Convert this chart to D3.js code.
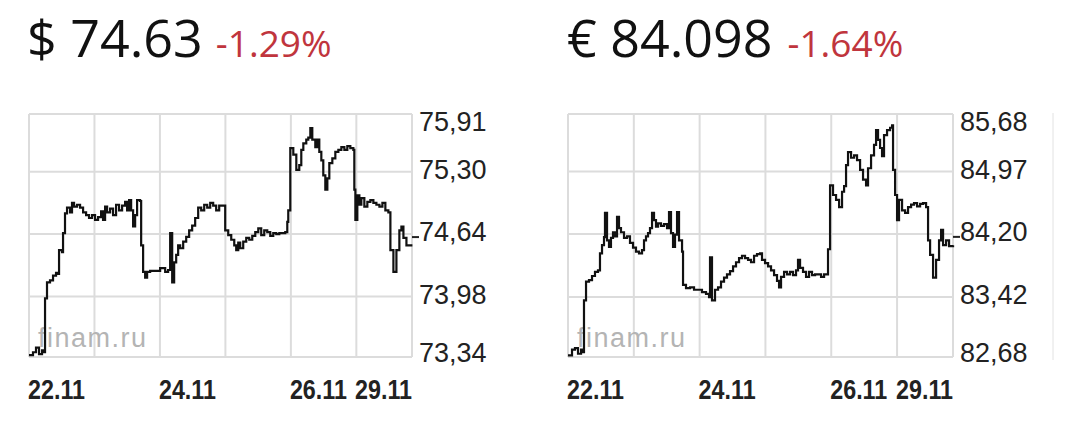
<!DOCTYPE html>
<html>
<head>
<meta charset="utf-8">
<style>
  body { margin: 0; background: #fff; }
</style>
</head>
<body>
<div id="d3-container"></div>

<script src="https://d3js.org/d3.v7.min.js"></script>
<script>
    const width = 1080;
    const height = 428;

    // trading days on the x axis (index of the day, weekend skipped)
    const dayTicks = [0, 1, 2, 3, 4, 5];
    const dayLabels = ["22.11", "", "24.11", "", "26.11", "29.11"];

    // USD/RUB  [day index, price]
    const usdTicks = [75.91, 75.30, 74.64, 73.98, 73.34];
    const usdPoints = [
        [0, 73.36], [0.061, 73.39], [0.107, 73.44], [0.153, 73.37], [0.199, 73.41], [0.229, 73.39],
        [0.245, 73.96], [0.275, 74.13], [0.321, 74.15], [0.367, 74.20], [0.413, 74.23], [0.443, 74.22],
        [0.459, 74.47], [0.505, 74.45], [0.520, 74.65], [0.550, 74.86], [0.581, 74.92], [0.627, 74.87],
        [0.657, 74.97], [0.688, 74.93], [0.734, 74.95], [0.780, 74.92], [0.826, 74.87], [0.872, 74.84],
        [0.917, 74.81], [0.963, 74.84], [1.009, 74.79], [1.055, 74.82], [1.101, 74.88], [1.131, 74.79],
        [1.162, 74.93], [1.193, 74.87], [1.239, 74.91], [1.284, 74.84], [1.330, 74.95], [1.376, 74.89],
        [1.422, 74.94], [1.468, 74.98], [1.498, 74.89], [1.529, 75.00], [1.560, 74.89], [1.590, 74.72],
        [1.621, 74.84], [1.651, 75.00], [1.697, 74.99], [1.713, 74.52], [1.743, 74.24], [1.774, 74.18],
        [1.804, 74.24], [1.850, 74.25], [1.927, 74.25], [2.003, 74.28], [2.080, 74.24], [2.125, 74.26],
        [2.156, 74.65], [2.187, 74.13], [2.217, 74.34], [2.248, 74.42], [2.278, 74.52], [2.309, 74.49],
        [2.355, 74.56], [2.401, 74.61], [2.446, 74.68], [2.492, 74.73], [2.538, 74.81], [2.584, 74.92],
        [2.630, 74.89], [2.676, 74.95], [2.722, 74.92], [2.768, 74.97], [2.813, 74.94], [2.859, 74.89],
        [2.905, 74.94], [2.951, 74.94], [2.997, 74.68], [3.043, 74.63], [3.089, 74.58], [3.135, 74.52],
        [3.165, 74.47], [3.196, 74.55], [3.226, 74.49], [3.272, 74.56], [3.318, 74.60], [3.364, 74.58],
        [3.410, 74.62], [3.456, 74.66], [3.502, 74.70], [3.547, 74.63], [3.593, 74.68], [3.639, 74.66],
        [3.685, 74.62], [3.731, 74.65], [3.777, 74.64], [3.823, 74.65], [3.869, 74.65], [3.914, 74.66],
        [3.945, 74.77], [3.960, 74.89], [3.991, 75.55], [4.037, 75.48], [4.083, 75.32], [4.128, 75.37],
        [4.159, 75.53], [4.190, 75.60], [4.235, 75.64], [4.266, 75.66], [4.297, 75.76], [4.327, 75.64],
        [4.373, 75.56], [4.404, 75.64], [4.434, 75.51], [4.465, 75.42], [4.495, 75.26], [4.526, 75.11],
        [4.557, 75.23], [4.587, 75.39], [4.633, 75.44], [4.679, 75.51], [4.725, 75.53], [4.771, 75.56],
        [4.817, 75.53], [4.862, 75.57], [4.908, 75.55], [4.954, 75.53], [4.969, 75.11], [4.985, 74.79],
        [5.015, 75.05], [5.046, 74.95], [5.076, 75.02], [5.122, 74.93], [5.168, 74.98], [5.214, 75.00],
        [5.260, 74.97], [5.306, 74.95], [5.352, 74.93], [5.398, 74.97], [5.443, 74.89], [5.489, 74.87],
        [5.520, 74.47], [5.566, 74.24], [5.612, 74.47], [5.657, 74.68], [5.688, 74.72], [5.719, 74.60],
        [5.765, 74.52], [5.810, 74.52], [5.856, 74.52]
    ];

    // EUR/RUB  [day index, price]
    const eurTicks = [85.68, 84.97, 84.20, 83.42, 82.68];
    const eurPoints = [
        [0, 82.70], [0.061, 82.77], [0.106, 82.79], [0.152, 82.72], [0.198, 82.77], [0.228, 82.74],
        [0.243, 83.38], [0.274, 83.61], [0.319, 83.63], [0.365, 83.68], [0.410, 83.73], [0.456, 83.75],
        [0.486, 83.96], [0.517, 84.06], [0.547, 84.16], [0.562, 84.46], [0.593, 84.12], [0.623, 84.04],
        [0.653, 84.15], [0.684, 84.22], [0.714, 84.17], [0.745, 84.41], [0.775, 84.27], [0.805, 84.22],
        [0.851, 84.15], [0.897, 84.17], [0.942, 84.09], [0.988, 84.03], [1.033, 83.98], [1.079, 83.96],
        [1.125, 84.00], [1.155, 84.12], [1.185, 84.17], [1.216, 84.21], [1.246, 84.27], [1.277, 84.46],
        [1.307, 84.37], [1.337, 84.29], [1.368, 84.33], [1.413, 84.30], [1.459, 84.32], [1.505, 84.27],
        [1.535, 84.47], [1.565, 84.21], [1.596, 84.04], [1.626, 84.19], [1.657, 84.47], [1.687, 84.12],
        [1.733, 83.98], [1.748, 83.57], [1.793, 83.53], [1.854, 83.54], [1.915, 83.51], [1.976, 83.51],
        [2.036, 83.48], [2.097, 83.46], [2.143, 83.42], [2.158, 83.91], [2.188, 83.38], [2.234, 83.51],
        [2.280, 83.54], [2.325, 83.61], [2.371, 83.66], [2.416, 83.70], [2.462, 83.74], [2.508, 83.80],
        [2.553, 83.85], [2.599, 83.90], [2.644, 83.93], [2.690, 83.90], [2.736, 83.88], [2.781, 83.85],
        [2.827, 83.93], [2.872, 83.95], [2.918, 83.96], [2.948, 83.88], [2.994, 83.84], [3.040, 83.80],
        [3.085, 83.75], [3.131, 83.69], [3.176, 83.62], [3.207, 83.54], [3.237, 83.67], [3.283, 83.73],
        [3.328, 83.70], [3.374, 83.73], [3.419, 83.69], [3.465, 83.75], [3.495, 83.88], [3.526, 83.78],
        [3.571, 83.73], [3.617, 83.67], [3.663, 83.73], [3.708, 83.69], [3.754, 83.70], [3.799, 83.70],
        [3.845, 83.67], [3.891, 83.70], [3.936, 83.70], [3.951, 84.01], [3.982, 84.80], [4.027, 84.68],
        [4.073, 84.62], [4.119, 84.53], [4.164, 84.72], [4.195, 84.79], [4.225, 85.05], [4.255, 85.21],
        [4.301, 85.14], [4.347, 85.17], [4.392, 85.11], [4.438, 84.99], [4.483, 84.87], [4.529, 84.80],
        [4.559, 85.01], [4.605, 85.17], [4.650, 85.30], [4.681, 85.48], [4.711, 85.36], [4.742, 85.26],
        [4.772, 85.16], [4.802, 85.42], [4.848, 85.48], [4.894, 85.51], [4.924, 85.54], [4.939, 84.99],
        [4.970, 84.68], [5.000, 84.37], [5.030, 84.62], [5.076, 84.49], [5.122, 84.46], [5.167, 84.53],
        [5.213, 84.56], [5.258, 84.58], [5.304, 84.54], [5.350, 84.57], [5.395, 84.58], [5.441, 84.53],
        [5.471, 84.12], [5.502, 83.94], [5.547, 83.66], [5.593, 83.88], [5.638, 84.12], [5.669, 84.25],
        [5.699, 84.06], [5.745, 84.12], [5.790, 84.05], [5.851, 84.06]
    ];

    const charts = [
        { sign: "$", price: "74.63", change: "-1.29%", ticks: usdTicks, points: usdPoints,
          left: 29, right: 412, headX: 27, gap: 13 },
        { sign: "€", price: "84.098", change: "-1.64%", ticks: eurTicks, points: eurPoints,
          left: 568, right: 953, headX: 567, gap: 15 }
    ];

    const plotTop = 114;
    const plotBottom = 357;
    const dayEnd = 5.85;

    const svg = d3.select("#d3-container")
        .append("svg")
        .attr("width", width)
        .attr("height", height)
        .style("background-color", "#fff");

    charts.forEach(c => {
        const g = svg.append("g");

        const x = d3.scaleLinear().domain([0, dayEnd]).range([c.left, c.right]);
        const y = d3.scaleLinear().domain([d3.min(c.ticks), d3.max(c.ticks)]).range([plotBottom, plotTop]);

        // header: price and change
        const head = g.append("text")
            .attr("x", c.headX)
            .attr("y", 57)
            .attr("font-family", "'Open Sans', 'Noto Sans', sans-serif");
        head.append("tspan")
            .attr("font-size", "52px")
            .attr("font-weight", 500)
            .attr("fill", "#111")
            .text(c.sign + " " + c.price);
        head.append("tspan")
            .attr("dx", c.gap)
            .attr("font-size", "37px")
            .attr("fill", "#c0353d")
            .text(c.change);

        // grid
        g.append("g").selectAll("line")
            .data(c.ticks)
            .join("line")
            .attr("x1", c.left).attr("x2", c.right)
            .attr("y1", d => y(d)).attr("y2", d => y(d))
            .attr("stroke", "#dcdcdc").attr("stroke-width", 2);

        g.append("g").selectAll("line")
            .data(dayTicks.concat([dayEnd]))
            .join("line")
            .attr("x1", d => x(d)).attr("x2", d => x(d))
            .attr("y1", plotTop).attr("y2", plotBottom)
            .attr("stroke", "#dcdcdc").attr("stroke-width", 2);

        // watermark
        g.append("text")
            .attr("x", c.left + 9)
            .attr("y", 347)
            .attr("font-family", "'Liberation Sans', Arial, sans-serif")
            .attr("font-size", "27px")
            .attr("letter-spacing", "1.5px")
            .attr("fill", "#b4b4b4")
            .text("finam.ru");

        // price line
        const line = d3.line()
            .x(d => x(d[0]))
            .y(d => y(d[1]))
            .curve(d3.curveStepAfter);

        g.append("path")
            .datum(c.points)
            .attr("d", line)
            .attr("fill", "none")
            .attr("stroke", "#111")
            .attr("stroke-width", 2.2);

        // y labels on the right
        g.append("g").selectAll("text")
            .data(c.ticks)
            .join("text")
            .attr("x", c.right + 7)
            .attr("y", d => Math.min(Math.max(y(d), 124), 355))
            .attr("dominant-baseline", "middle")
            .attr("font-family", "'Liberation Sans', Arial, sans-serif")
            .attr("font-size", "27px")
            .attr("fill", "#222")
            .text(d => d.toFixed(2).replace(".", ","));

        // marker of last price at the nearest label
        const last = c.points[c.points.length - 1][1];
        const near = c.ticks.reduce((a, b) => Math.abs(b - last) < Math.abs(a - last) ? b : a);
        g.append("line")
            .attr("x1", c.right).attr("x2", c.right + 7)
            .attr("y1", y(near) + 3).attr("y2", y(near) + 3)
            .attr("stroke", "#222").attr("stroke-width", 2);

        // x labels (narrow bitmap-like font, squeezed to width)
        g.append("g").selectAll("text")
            .data(dayTicks.filter((d, i) => dayLabels[i] !== ""))
            .join("text")
            .attr("x", d => d === 5 ? c.right : x(d) - 1)
            .attr("y", 399)
            .attr("text-anchor", d => d === 5 ? "end" : "start")
            .attr("textLength", 57)
            .attr("lengthAdjust", "spacingAndGlyphs")
            .attr("font-family", "'Liberation Sans', Arial, sans-serif")
            .attr("font-size", "27px")
            .attr("font-weight", "bold")
            .attr("fill", "#222")
            .text(d => dayLabels[dayTicks.indexOf(d)]);
    });

    // faint separator at the right edge
    svg.append("line")
        .attr("x1", 1053).attr("x2", 1053)
        .attr("y1", 113).attr("y2", 360)
        .attr("stroke", "#e2e2e2")
        .attr("stroke-width", 1);
</script>
</body>
</html>
